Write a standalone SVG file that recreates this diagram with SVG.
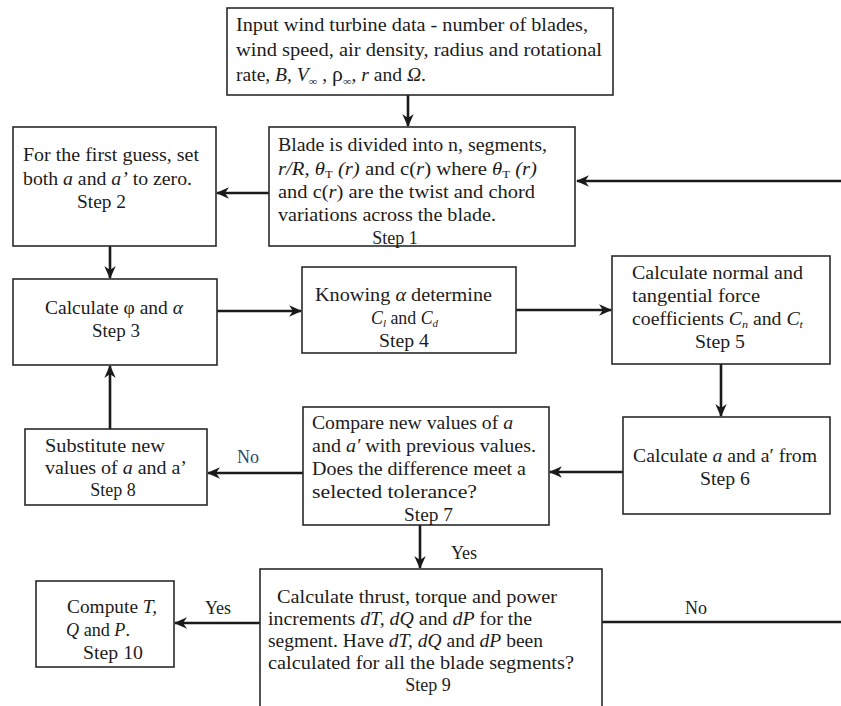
<svg xmlns="http://www.w3.org/2000/svg" width="841" height="706" viewBox="0 0 841 706">
<defs>
<style>
.box{fill:#ffffff;stroke:#2a2a2a;stroke-width:1.6}
.t{font-family:"Liberation Serif","Times New Roman",serif;font-size:18px;fill:#1c1c1c}
.i{font-style:italic}
.sub{font-size:11px}
.lbl{font-family:"Liberation Serif","Times New Roman",serif;font-size:18px;fill:#1c1c1c}
.no{fill:#2f4a6a}
.c{fill:none;stroke:#1a1a1a;stroke-width:2.6}
</style>
<marker id="ah" markerUnits="userSpaceOnUse" markerWidth="13" markerHeight="13" viewBox="0 0 13 13" refX="12" refY="6.5" orient="auto">
<path d="M0,0.8 L13,6.5 L0,12.2 L4,6.5 z" fill="#1a1a1a"/>
</marker>
</defs>
<rect width="841" height="706" fill="#ffffff"/>

<g id="connectors">
<line class="c" x1="408" y1="95" x2="408" y2="126" marker-end="url(#ah)"/>
<line class="c" x1="841" y1="181" x2="577" y2="181" marker-end="url(#ah)"/>
<line class="c" x1="269" y1="193" x2="217" y2="193" marker-end="url(#ah)"/>
<line class="c" x1="110" y1="246" x2="110" y2="278" marker-end="url(#ah)"/>
<line class="c" x1="217" y1="311" x2="301" y2="311" marker-end="url(#ah)"/>
<line class="c" x1="516" y1="310" x2="611" y2="310" marker-end="url(#ah)"/>
<line class="c" x1="721" y1="364" x2="721" y2="416" marker-end="url(#ah)"/>
<line class="c" x1="623" y1="472" x2="550" y2="472" marker-end="url(#ah)"/>
<line class="c" x1="303" y1="473" x2="208" y2="473" marker-end="url(#ah)"/>
<line class="c" x1="110" y1="429" x2="110" y2="366" marker-end="url(#ah)"/>
<line class="c" x1="420" y1="525" x2="420" y2="568" marker-end="url(#ah)"/>
<line class="c" x1="260" y1="623" x2="175" y2="623" marker-end="url(#ah)"/>
<line class="c" x1="602" y1="622" x2="841" y2="622"/>
<text class="lbl no" x="248" y="463" text-anchor="middle">No</text>
<text class="lbl" x="464" y="559" text-anchor="middle">Yes</text>
<text class="lbl" x="218" y="614" text-anchor="middle">Yes</text>
<text class="lbl" x="696" y="614" text-anchor="middle">No</text>
</g>

<g id="input">
<rect class="box" x="227" y="8" width="386" height="87"/>
<text class="t" x="236" y="31" textLength="352" lengthAdjust="spacingAndGlyphs">Input wind turbine data - number of blades,</text>
<text class="t" x="236" y="56" textLength="366" lengthAdjust="spacingAndGlyphs">wind speed, air density, radius and rotational</text>
<text class="t" x="236" y="81" textLength="190" lengthAdjust="spacingAndGlyphs">rate, <tspan class="i">B,</tspan> <tspan class="i">V</tspan><tspan class="sub" dy="4">∞</tspan><tspan dy="-4"> , </tspan><tspan font-size="20">ρ</tspan><tspan class="sub" dy="4">∞</tspan><tspan dy="-4">, </tspan><tspan class="i">r</tspan> and <tspan class="i">Ω</tspan>.</text>
</g>

<g id="step1">
<rect class="box" x="269" y="127" width="306" height="119"/>
<text class="t" x="278" y="151" textLength="269" lengthAdjust="spacingAndGlyphs">Blade is divided into n, segments,</text>
<text class="t" x="278" y="175" textLength="259" lengthAdjust="spacingAndGlyphs"><tspan class="i">r/R, θ</tspan><tspan class="sub" dy="3">T</tspan><tspan dy="-3" class="i"> (r)</tspan> and c(<tspan class="i">r</tspan>) where <tspan class="i">θ</tspan><tspan class="sub" dy="3">T</tspan><tspan dy="-3" class="i"> (r)</tspan></text>
<text class="t" x="278" y="198" textLength="257" lengthAdjust="spacingAndGlyphs">and c(<tspan class="i">r</tspan>) are the twist and chord</text>
<text class="t" x="278" y="221" textLength="218" lengthAdjust="spacingAndGlyphs">variations across the blade.</text>
<text class="t" x="395" y="244" text-anchor="middle">Step 1</text>
</g>

<g id="step2">
<rect class="box" x="13" y="127" width="203" height="119"/>
<text class="t" x="23" y="161" textLength="176" lengthAdjust="spacingAndGlyphs">For the first guess, set</text>
<text class="t" x="23" y="185" textLength="169" lengthAdjust="spacingAndGlyphs">both <tspan class="i">a</tspan> and <tspan class="i">a’</tspan> to zero.</text>
<text class="t" x="77" y="208" textLength="49" lengthAdjust="spacingAndGlyphs">Step 2</text>
</g>

<g id="step3">
<rect class="box" x="13" y="279" width="204" height="86"/>
<text class="t" x="45" y="314" textLength="138" lengthAdjust="spacingAndGlyphs">Calculate φ and <tspan class="i">α</tspan></text>
<text class="t" x="92" y="337" textLength="48" lengthAdjust="spacingAndGlyphs">Step 3</text>
</g>

<g id="step4">
<rect class="box" x="302" y="267" width="214" height="86"/>
<text class="t" x="315" y="301" textLength="177" lengthAdjust="spacingAndGlyphs">Knowing <tspan class="i">α</tspan> determine</text>
<text class="t" x="371" y="324" textLength="67" lengthAdjust="spacingAndGlyphs"><tspan class="i">C</tspan><tspan class="sub i" dy="3">l</tspan><tspan dy="-3"> and </tspan><tspan class="i">C</tspan><tspan class="sub i" dy="3">d</tspan></text>
<text class="t" x="379" y="347" textLength="50" lengthAdjust="spacingAndGlyphs">Step 4</text>
</g>

<g id="step5">
<rect class="box" x="612" y="256" width="218" height="108"/>
<text class="t" x="632" y="279" textLength="171" lengthAdjust="spacingAndGlyphs">Calculate normal and</text>
<text class="t" x="632" y="302" textLength="128" lengthAdjust="spacingAndGlyphs">tangential force</text>
<text class="t" x="632" y="325" textLength="171" lengthAdjust="spacingAndGlyphs">coefficients <tspan class="i">C</tspan><tspan class="sub i" dy="3">n</tspan><tspan dy="-3"> and </tspan><tspan class="i">C</tspan><tspan class="sub i" dy="3">t</tspan></text>
<text class="t" x="695" y="348" textLength="50" lengthAdjust="spacingAndGlyphs">Step 5</text>
</g>

<g id="step6">
<rect class="box" x="623" y="417" width="207" height="97"/>
<text class="t" x="633" y="462" textLength="184" lengthAdjust="spacingAndGlyphs">Calculate <tspan class="i">a</tspan> and a′ from</text>
<text class="t" x="700" y="485" textLength="50" lengthAdjust="spacingAndGlyphs">Step 6</text>
</g>

<g id="step7">
<rect class="box" x="303" y="407" width="246" height="118"/>
<text class="t" x="312" y="429" textLength="201" lengthAdjust="spacingAndGlyphs">Compare new values of <tspan class="i">a</tspan></text>
<text class="t" x="312" y="452" textLength="224" lengthAdjust="spacingAndGlyphs">and <tspan class="i">a′</tspan> with previous values.</text>
<text class="t" x="312" y="475" textLength="214" lengthAdjust="spacingAndGlyphs">Does the difference meet a</text>
<text class="t" x="312" y="498" textLength="165" lengthAdjust="spacingAndGlyphs">selected tolerance?</text>
<text class="t" x="404" y="521" textLength="49" lengthAdjust="spacingAndGlyphs">Step 7</text>
</g>

<g id="step8">
<rect class="box" x="25" y="429" width="182" height="76"/>
<text class="t" x="45" y="452" textLength="120" lengthAdjust="spacingAndGlyphs">Substitute new</text>
<text class="t" x="45" y="474" textLength="142" lengthAdjust="spacingAndGlyphs">values of <tspan class="i">a</tspan> and a’</text>
<text class="t" x="113" y="496" text-anchor="middle">Step 8</text>
</g>

<g id="step9">
<rect class="box" x="260" y="569" width="342" height="150"/>
<text class="t" x="277" y="603" textLength="280" lengthAdjust="spacingAndGlyphs">Calculate thrust, torque and power</text>
<text class="t" x="268" y="625" textLength="264" lengthAdjust="spacingAndGlyphs">increments <tspan class="i">dT, dQ</tspan> and <tspan class="i">dP</tspan> for the</text>
<text class="t" x="268" y="647" textLength="275" lengthAdjust="spacingAndGlyphs">segment. Have <tspan class="i">dT, dQ</tspan> and <tspan class="i">dP</tspan> been</text>
<text class="t" x="268" y="669" textLength="306" lengthAdjust="spacingAndGlyphs">calculated for all the blade segments?</text>
<text class="t" x="428" y="691" text-anchor="middle">Step 9</text>
</g>

<g id="step10">
<rect class="box" x="36" y="581" width="138" height="86"/>
<text class="t" x="67" y="613" textLength="90" lengthAdjust="spacingAndGlyphs">Compute <tspan class="i">T,</tspan></text>
<text class="t" x="66" y="636" textLength="64" lengthAdjust="spacingAndGlyphs"><tspan class="i">Q</tspan> and <tspan class="i">P</tspan>.</text>
<text class="t" x="83" y="659" textLength="60" lengthAdjust="spacingAndGlyphs">Step 10</text>
</g>
</svg>
